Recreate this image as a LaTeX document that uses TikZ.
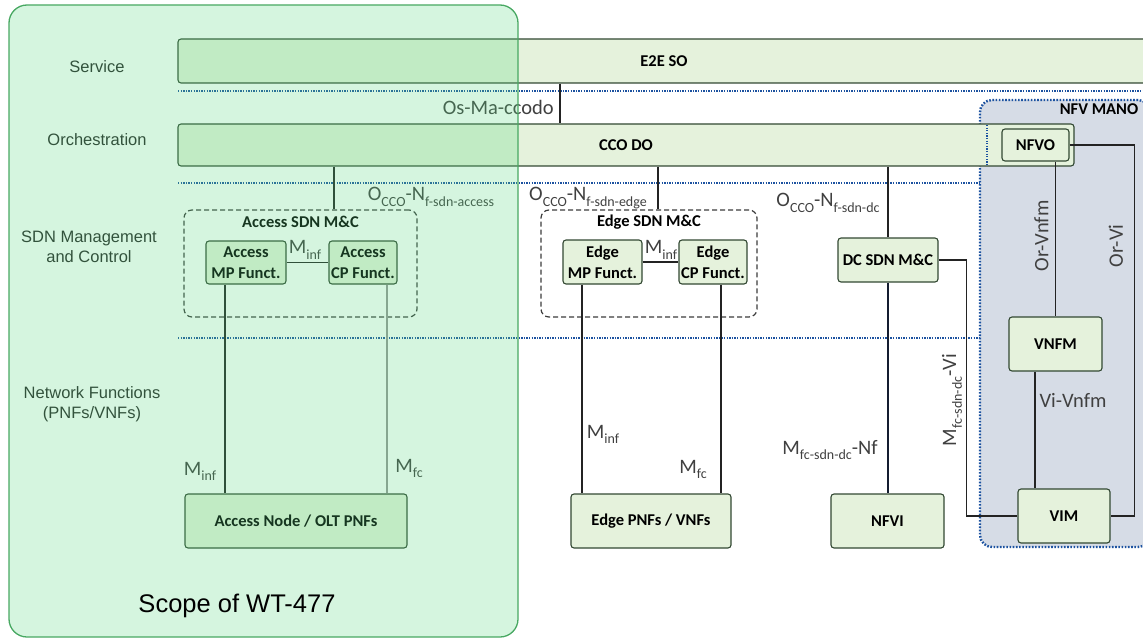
\documentclass[tikz,border=0pt]{standalone}
\usepackage{fontspec}
\setmainfont{Carlito}
\newfontfamily\arialf{Liberation Sans}
\usetikzlibrary{calc}
\definecolor{boxfill}{RGB}{229,242,220}
\definecolor{boxdraw}{RGB}{50,72,50}
\definecolor{linecol}{RGB}{35,35,35}
\definecolor{ifcol}{RGB}{64,64,64}
\definecolor{lightline}{RGB}{150,150,150}
\definecolor{manofill}{RGB}{214,220,230}
\definecolor{manoblue}{RGB}{28,82,160}
\definecolor{scopefill}{RGB}{88,216,128}
\definecolor{scopedraw}{RGB}{72,168,98}
\definecolor{dashcol}{RGB}{60,60,60}
\definecolor{navyline}{RGB}{20,28,48}
\newcommand\lsub[1]{\raisebox{-0.28em}{\fontsize{14}{14}\selectfont #1}}
\newcommand\boxfont{\bfseries\fontsize{16.5}{21}\selectfont}
\newcommand\layerfont{\arialf\fontsize{16.5}{20}\selectfont}
\newcommand\iffont{\fontsize{20.5}{24}\selectfont}
\begin{document}
\begin{tikzpicture}[x=1pt,y=-1pt,
  box/.style={draw=boxdraw, fill=boxfill, line width=1.1pt, rounded corners=3pt, inner sep=0pt, font=\boxfont, align=center, text=black},
  wh/.style 2 args={minimum width=#1pt, minimum height=#2pt},
  groupbox/.style={draw=dashcol, line width=1.2pt, dash pattern=on 5pt off 3pt, rounded corners=8pt, inner sep=0pt},
  conn/.style={draw=linecol, line width=1.2pt},
  sepline/.style={draw=manoblue, line width=2pt, dash pattern=on 1.3pt off 1.3pt},
  layer/.style={font=\layerfont, text=black!85, align=center, inner sep=0pt},
  iflabel/.style={font=\iffont, text=ifcol, inner sep=0pt},
  titletext/.style={font=\boxfont, inner sep=0pt}
]
\useasboundingbox (0,0) rectangle (1143,639);

% layer separators
\draw[sepline] (178,91) -- (1150,91);
\draw[sepline] (178,183) -- (980,183);
\draw[sepline] (178,338) -- (980,338);

% NFV MANO group
\node[draw=manoblue, fill=manofill, line width=2.4pt, dash pattern=on 1.6pt off 1.6pt, rounded corners=12pt, wh={170}{447}, inner sep=0pt] (mano) at (1065,323.5) {};
\node[titletext] (manot) at (1099,109) {NFV MANO};

% bars
\node[box, wh={972}{44}] (e2e) at (664,61) {E2E SO};
\node[box, wh={896}{42}] (cco) at (626,145) {CCO DO};
\draw[sepline, line width=2.2pt] (987,125) -- (987,165);

% boxes
\node[box, wh={67}{32}] (nfvo) at (1035.5,145) {NFVO};
\node[box, wh={93}{54}] (vnfm) at (1055.5,344) {VNFM};
\node[box, wh={92}{54}] (vim) at (1064,516) {VIM};
\node[box, wh={100}{44}] (dcsdn) at (888,260) {DC SDN M\&C};
\node[box, wh={113}{54}] (nfvi) at (887.5,521) {NFVI};

\node[groupbox, wh={216}{107}] (edgesdn) at (649,263.5) {};
\node[titletext] (edget) at (649,222) {Edge SDN M\&C};
\node[box, wh={79}{44}] (edgemp) at (602.5,262) {Edge\\MP Funct.};
\node[box, wh={68}{44}] (edgecp) at (713,262) {Edge\\CP Funct.};
\node[box, wh={160}{54}] (edgenf) at (651,521) {Edge PNFs / VNFs};

\node[groupbox, wh={233}{107}] (accsdn) at (300.5,263.5) {};
\node[titletext] (acct) at (300.5,222) {Access SDN M\&C};
\node[box, wh={80}{43}] (accmp) at (246,262.5) {Access\\MP Funct.};
\node[box, wh={68}{43}] (acccp) at (363,262.5) {Access\\CP Funct.};
\node[box, wh={222}{54}] (accnode) at (296,521) {Access Node / OLT PNFs};

% connectors
\coordinate (osma) at ([xshift=-104pt]e2e.south);
\draw[conn] (osma) -- (osma |- cco.north);
\coordinate (c1) at ([xshift=33.5pt]accsdn.north);
\draw[conn] (c1 |- cco.south) -- (c1);
\coordinate (c2) at ([xshift=9pt]edgesdn.north);
\draw[conn] (c2 |- cco.south) -- (c2);
\draw[conn] (dcsdn.north |- cco.south) -- (dcsdn.north);
\draw[conn] (accmp.east) -- (acccp.west);
\draw[conn] (edgemp.east) -- (edgecp.west);
\coordinate (c3) at ([xshift=-21pt]accmp.south);
\draw[conn] (c3) -- (c3 |- accnode.north);
\coordinate (c4) at ([xshift=24pt]acccp.south);
\draw[conn, draw=lightline] (c4) -- (c4 |- accnode.north);
\coordinate (c5) at ([xshift=-20.5pt]edgemp.south);
\draw[conn] (c5) -- (c5 |- edgenf.north);
\coordinate (c6) at ([xshift=8pt]edgecp.south);
\draw[conn] (c6) -- (c6 |- edgenf.north);
\draw[conn, draw=navyline, line width=2pt] (dcsdn.south) -- (dcsdn.south |- nfvi.north);
\draw[conn] (dcsdn.east) -- ++(28,0) |- (vim.west);
\draw[conn] (nfvo.east) -- ++(65,0) |- (vim.east);
\draw[conn] (nfvo.south -| vnfm.north) -- (vnfm.north);
\coordinate (c7) at ([xshift=-20.5pt]vnfm.south);
\draw[conn] (c7) -- (c7 |- vim.north);

% interface labels
\node[iflabel, anchor=east] (osmal) at (554,107) {Os-Ma-ccodo};
\node[iflabel, anchor=base] (ifacc) at (431,201) {O\lsub{CCO}-N\lsub{f-sdn-access}};
\node[iflabel, anchor=base] (ifedge) at (588,201) {O\lsub{CCO}-N\lsub{f-sdn-edge}};
\node[iflabel, anchor=base] (ifdc) at (828,207) {O\lsub{CCO}-N\lsub{f-sdn-dc}};
\node[iflabel, anchor=base] (minfa) at (305,254) {M\lsub{inf}};
\node[iflabel, anchor=base] (minfe) at (661,254) {M\lsub{inf}};
\node[iflabel, anchor=base] (minfal) at (200,475) {M\lsub{inf}};
\node[iflabel, anchor=base] (mfca) at (409,472) {M\lsub{fc}};
\node[iflabel, anchor=base] (minfel) at (603,438) {M\lsub{inf}};
\node[iflabel, anchor=base] (mfce) at (693,473) {M\lsub{fc}};
\node[iflabel, anchor=base] (mfcnf) at (830,454) {M\lsub{fc-sdn-dc}-Nf};
\node[iflabel, anchor=base] (vivnfm) at (1073,407) {Vi-Vnfm};
\node[iflabel, rotate=90] (orvnfm) at (1041.5,236) {Or-Vnfm};
\node[iflabel, rotate=90] (orvi) at (1116,246) {Or-Vi};
\node[iflabel, rotate=90] (mfcvi) at (952,400) {M\lsub{fc-sdn-dc}-Vi};

% layer labels
\node[layer] (lsvc) at (97,67) {Service};
\node[layer] (lorch) at (97,140) {Orchestration};
\node[layer] (lsdn) at (89,247) {SDN Management\\and Control};
\node[layer] (lnf) at (92,404) {Network Functions\\(PNFs/VNFs)};

% scope overlay
\node[draw=scopedraw, fill=scopefill, fill opacity=0.25, line width=1.3pt, rounded corners=18pt, wh={509}{632}, inner sep=0pt] (scope) at (263.5,321) {};
\node[font=\arialf\fontsize{25.5}{30}\selectfont, anchor=base, inner sep=0pt] (scopet) at (237,612) {Scope of WT-477};
\end{tikzpicture}
\end{document}
